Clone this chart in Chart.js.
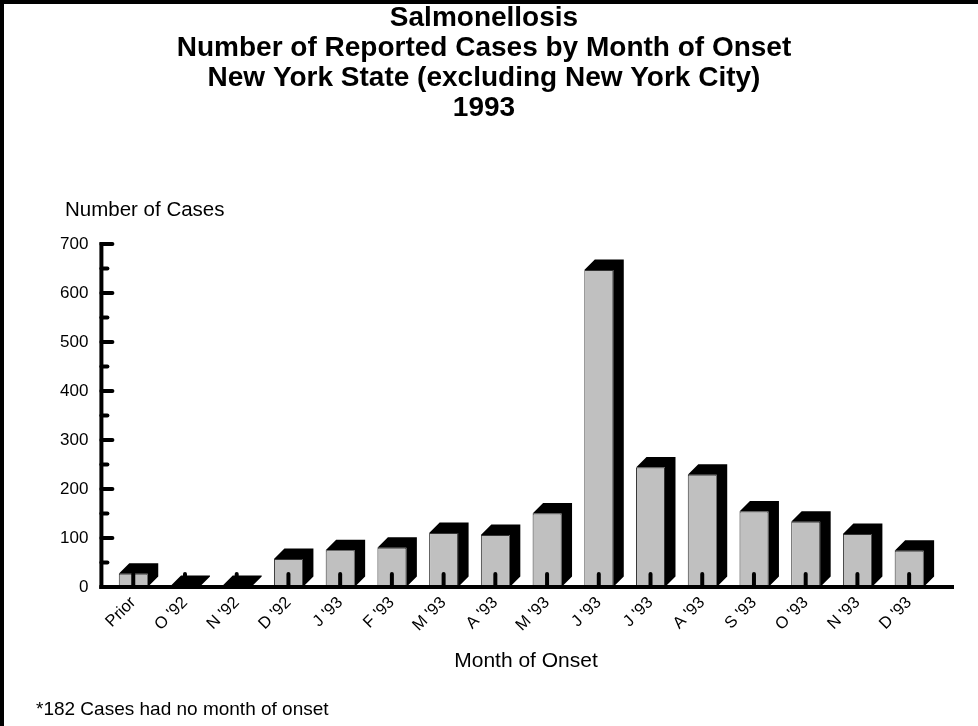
<!DOCTYPE html>
<html><head><meta charset="utf-8">
<script src="https://cdn.jsdelivr.net/npm/chart.js@4/dist/chart.umd.min.js"></script>
<style>html,body{margin:0;padding:0;background:#fff;overflow:hidden}#wrap{width:978px;height:726px;position:relative}</style>
</head><body><div id="wrap"><canvas id="c" width="978" height="726"></canvas></div>
<script>
const categories = ["Prior", "O '92", "N '92", "D '92", "J '93", "F '93", "M '93", "A '93", "M '93", "J '93", "J '93", "A '93", "S '93", "O '93", "N '93", "D '93"];
const cases = [27, 2, 2, 57, 75, 80, 110, 106, 150, 647, 244, 229, 154, 133, 108, 74];
const yTickValues = [0, 100, 200, 300, 400, 500, 600, 700];
const titleLines = ["Salmonellosis", "Number of Reported Cases by Month of Onset", "New York State (excluding New York City)", "1993"];
const yAxisTitle = "Number of Cases";
const xAxisTitle = "Month of Onset";
const footnote = "*182 Cases had no month of onset";

const FONT = "'Liberation Sans', Arial, sans-serif";
const DEPTH = 10.5;

const decor = {
  id: 'decor',
  beforeDraw(chart) {
    const ctx = chart.ctx;
    ctx.save();
    ctx.fillStyle = '#fff';
    ctx.fillRect(0, 0, chart.width, chart.height);
    // frame
    ctx.fillStyle = '#000';
    ctx.fillRect(0, 0, chart.width, 4);
    ctx.fillRect(0, 0, 4, chart.height);
    // titles
    ctx.fillStyle = '#000';
    ctx.textAlign = 'center';
    ctx.textBaseline = 'middle';
    ctx.font = 'bold 28px ' + FONT;
    titleLines.forEach((t, i) => ctx.fillText(t, 484, 18 + i * 30));
    ctx.font = '20.5px ' + FONT;
    ctx.textAlign = 'left';
    ctx.fillText(yAxisTitle, 65, 210);
    ctx.font = '21px ' + FONT;
    ctx.textAlign = 'center';
    ctx.fillText(xAxisTitle, 526, 661);
    ctx.textAlign = 'left';
    ctx.font = '19px ' + FONT;
    ctx.fillText(footnote, 36, 710);
    ctx.restore();
  },
  afterDatasetsDraw(chart) {
    const ctx = chart.ctx;
    const meta = chart.getDatasetMeta(0);
    const xs = chart.scales.x, ys = chart.scales.y;
    ctx.save();
    ctx.fillStyle = '#000';
    meta.data.forEach((bar) => {
      const p = bar.getProps(['x', 'y', 'base', 'width'], true);
      const l = p.x - p.width / 2, r = p.x + p.width / 2, top = p.y, base = p.base;
      ctx.beginPath();
      ctx.moveTo(l, top);
      ctx.lineTo(l + DEPTH, top - DEPTH);
      ctx.lineTo(r + DEPTH, top - DEPTH);
      ctx.lineTo(r + DEPTH, base - DEPTH);
      ctx.lineTo(r, base);
      ctx.lineTo(r, top);
      ctx.closePath();
      ctx.fill();
    });
    // category ticks drawn upward over the bars
    ctx.strokeStyle = '#000';
    ctx.lineWidth = 4;
    ctx.lineCap = 'round';
    const y0 = ys.getPixelForValue(0);
    categories.forEach((c, i) => {
      const x = xs.getPixelForValue(i);
      ctx.beginPath();
      ctx.moveTo(x, y0);
      ctx.lineTo(x, y0 - 13);
      ctx.stroke();
    });
    // axes
    const axX = chart.chartArea.left - 6;
    ctx.lineCap = 'butt';
    ctx.beginPath();
    ctx.moveTo(axX - 2, y0);
    ctx.lineTo(954, y0);
    ctx.stroke();
    ctx.beginPath();
    ctx.moveTo(axX, y0 + 2);
    ctx.lineTo(axX, ys.getPixelForValue(700) - 2);
    ctx.stroke();
    ctx.lineCap = 'round';
    for (let v = 0; v <= 700; v += 50) {
      const y = ys.getPixelForValue(v);
      const len = v % 100 === 0 ? 11 : 6;
      ctx.beginPath();
      ctx.moveTo(axX, y);
      ctx.lineTo(axX + len, y);
      ctx.stroke();
    }
    ctx.restore();
  }
};

new Chart(document.getElementById('c'), {
  type: 'bar',
  data: {
    labels: categories,
    datasets: [{
      data: cases,
      backgroundColor: '#c0c0c0',
      borderColor: '#333',
      borderWidth: 1,
      borderSkipped: false,
      barPercentage: 0.56,
      categoryPercentage: 1
    }]
  },
  options: {
    responsive: false,
    devicePixelRatio: 1,
    animation: false,
    layout: { padding: { left: 0, right: 43, top: 244, bottom: 0 } },
    plugins: { legend: { display: false }, title: { display: false }, tooltip: { enabled: false } },
    scales: {
      x: {
        grid: { display: false, drawTicks: false },
        border: { display: false },
        ticks: { color: '#000', font: { family: FONT, size: 16.5 }, minRotation: 45, maxRotation: 45, padding: 6, autoSkip: false },
        afterFit(s) { s.height = 139; }
      },
      y: {
        min: 0, max: 700,
        grid: { display: false, drawTicks: false },
        border: { display: false },
        afterBuildTicks(s) { s.ticks = yTickValues.map(v => ({ value: v })); },
        ticks: { color: '#000', font: { family: FONT, size: 17 }, padding: 19 },
        afterFit(s) { s.width = 107.4; }
      }
    }
  },
  plugins: [decor]
});
</script>
</body></html>
